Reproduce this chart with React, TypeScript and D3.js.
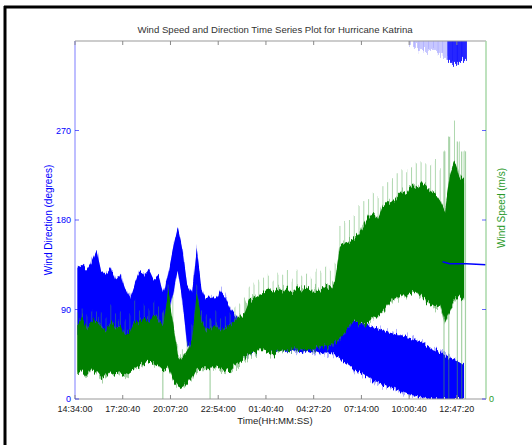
import React from "react";
import * as d3 from "d3";

// seconds after 14:34:00, one bin every 1000 s
const binStep = 1000;
const xTickValues = [0, 10000, 20000, 30000, 40000, 50000, 60000, 70000, 80000];
const xTickLabels = ["14:34:00", "17:20:40", "20:07:20", "22:54:00", "01:40:40", "04:27:20", "07:14:00", "10:00:40", "12:47:20"];
const dirTicks = [0, 90, 180, 270];

// wind direction band per bin (degrees)
const dirHi = [
  132, 135, 130, 138, 150, 128, 125, 132, 120, 124,
  110, 102, 116, 128, 125, 130, 120, 124, 107, 125,
  150, 172, 150, 115, 105, 152, 110, 100, 104, 100,
  108, 102, 91, 84, 77, 71, 74, 81, 89, 100,
  102, 100, 98, 101, 97, 99, 96, 100, 98, 95,
  97, 94, 96, 92, 90, 84, 81, 79, 79, 77,
  76, 74, 72, 71, 69, 67, 66, 64, 64, 62,
  61, 59, 57, 54, 51, 49, 47, 44, 41, 39,
  37, 34,
];
const dirLo = [
  64, 67, 64, 69, 69, 66, 67, 69, 64, 61,
  61, 64, 67, 69, 66, 66, 64, 63, 59, 84,
  104, 130, 100, 54, 49, 79, 59, 54, 54, 51,
  54, 54, 51, 49, 47, 44, 47, 49, 51, 54,
  54, 49, 48, 50, 47, 49, 48, 47, 49, 47,
  48, 46, 47, 45, 45, 41, 37, 34, 29, 27,
  24, 21, 17, 16, 14, 12, 11, 9, 7, 5,
  4, 3, 2, 1, 0, 0, 0, 0, 0, 0,
  0, 0,
];
// readings that wrapped round past 360 (bins 70..81)
const dirWrapLo = [356, 354, 351, 349, 351, 349, 346, 343, 339, 336, 339, 341];
const dirWrapFirstBin = 70;
const dirWrapDenseFrom = 78;
// steady direction at the end of the record
const dirTailTime = [77000, 78500, 82000, 86100];
const dirTailValue = [138, 136, 136, 135];

// wind speed band per bin (m/s) and the spikes above it
const spdHi = [
  14.8, 16.2, 14.2, 15.4, 15.8, 14.6, 13.8, 15.4, 14.2, 14.8,
  12.8, 13.4, 15.8, 15.4, 16.2, 15.4, 16.8, 15.8, 14.8, 21.8,
  15.8, 8.8, 7.8, 9.4, 11.8, 21.4, 15.8, 13.8, 14.2, 14.8,
  13.8, 14.2, 14.8, 15.8, 16.8, 17.4, 19.8, 20.2, 20.8, 21.4,
  21.8, 21.4, 22.2, 21.8, 22.4, 21.4, 22.6, 21.8, 22.2, 21.4,
  22.2, 21.8, 22.6, 22.2, 23.8, 30.8, 31.4, 31.8, 32.2, 33.4,
  34.8, 36.8, 37.4, 36.2, 38.8, 39.8, 39.4, 40.8, 41.8, 41.4,
  43.0, 42.4, 43.4, 43.0, 41.8, 41.4, 39.8, 37.8, 44.8, 47.8,
  44.8, 43.8,
];
const spdLo = [
  5.4, 5.8, 4.8, 6.2, 5.4, 4.2, 4.6, 5.8, 5.2, 5.4,
  4.8, 5.4, 6.2, 6.8, 7.4, 7.8, 7.4, 6.8, 5.8, 6.8,
  3.8, 2.8, 2.2, 3.2, 4.2, 5.8, 6.2, 6.2, 6.8, 6.2,
  5.8, 5.4, 5.8, 6.8, 7.4, 8.2, 8.8, 9.4, 9.8, 9.8,
  9.4, 8.8, 9.4, 9.8, 9.4, 9.8, 10.2, 9.8, 10.2, 9.8,
  10.2, 10.6, 10.8, 10.6, 11.4, 12.2, 13.4, 14.8, 15.8, 15.4,
  14.8, 15.4, 16.2, 16.8, 17.8, 18.8, 19.8, 20.2, 20.8, 20.8,
  21.4, 21.8, 20.8, 19.8, 18.8, 18.2, 18.8, 15.8, 17.8, 19.8,
  20.8, 19.8,
];
const spdPeak = [
  17.4, 18.8, 16.8, 17.8, 17.8, 17.4, 16.2, 18.8, 16.8, 17.4,
  15.8, 16.8, 19.8, 17.8, 18.8, 17.8, 19.8, 18.2, 17.4, 22.8,
  20.8, 10.8, 9.8, 11.8, 14.8, 22.8, 17.8, 16.8, 16.2, 17.4,
  16.2, 16.8, 17.4, 18.8, 19.4, 20.2, 22.8, 23.2, 23.8, 24.2,
  24.8, 23.8, 25.4, 24.8, 25.8, 24.2, 26.2, 24.8, 25.4, 24.6,
  25.8, 25.4, 26.6, 25.8, 27.4, 34.8, 35.4, 36.2, 36.8, 38.8,
  39.8, 40.2, 41.4, 40.8, 42.8, 43.8, 44.2, 45.4, 46.2, 45.8,
  46.8, 47.4, 47.8, 47.4, 46.8, 48.2, 46.2, 49.8, 52.8, 56.2,
  51.8, 49.8,
];
// moments where the speed record drops to zero
const spdDropTime = [18400, 28300, 77300, 78300, 80100, 81000, 81800];

const W = 532;
const H = 445;
const left = 75, right = 486, top = 41, bottom = 399;
const font = "'Liberation Sans', Arial, sans-serif";
const BLUE = "#0000ff";
const GREEN = "#007f00";

// scatter look: displace columns up/down, leave x alone
function Jag({ id, scale, seed }: { id: string; scale: number; seed: number }) {
  return (
    <filter id={id} x={0} y={0} width={W} height={H} filterUnits="userSpaceOnUse">
      <feTurbulence type="fractalNoise" baseFrequency="0.55 0.015" numOctaves={2} seed={seed} result="n" />
      <feColorMatrix in="n" type="matrix"
        values="1 0 0 0 0  0 0 0 0 0.5  0 0 1 0 0  0 0 0 0 1" result="m" />
      <feDisplacementMap in="SourceGraphic" in2="m" scale={scale} xChannelSelector="G" yChannelSelector="R" />
    </filter>
  );
}

export default function App() {
  const x = d3.scaleLinear().domain([0, 86100]).range([left, right]);
  const yDir = d3.scaleLinear().domain([0, 360]).range([bottom, top]);
  const ySpd = d3.scaleLinear().domain([0, 72]).range([bottom, top]);

  const bins = d3.range(dirHi.length).map((i) => ({
    t: i * binStep + binStep / 2,
    dHi: dirHi[i], dLo: dirLo[i],
    sHi: spdHi[i], sLo: spdLo[i], sPk: spdPeak[i],
  }));

  const dirArea = d3.area<any>().x((d) => x(d.t)).y0((d) => yDir(d.dLo)).y1((d) => yDir(d.dHi))(bins) || "";
  const spdArea = d3.area<any>().x((d) => x(d.t)).y0((d) => ySpd(d.sLo)).y1((d) => ySpd(d.sHi))(bins) || "";
  const tail = d3.line<number>().x((d, i) => x(dirTailTime[i])).y((d) => yDir(d))(dirTailValue) || "";
  const bw = x(binStep) - x(0);

  return (
    <svg width={W} height={H} style={{ position: "absolute", left: 0, top: 0, background: "#fff" }}>
      <defs>
        <Jag id="jagS" scale={9} seed={3} />
        <Jag id="jagL" scale={22} seed={7} />
        <Jag id="jagG" scale={12} seed={11} />
        <Jag id="jagW" scale={16} seed={5} />
        <clipPath id="plot">
          <rect x={left} y={top} width={right - left} height={bottom - top} />
        </clipPath>
      </defs>
      <rect x={0} y={0} width={W} height={H} fill="#fff" />
      {/* frame */}
      <line x1={5} x2={5} y1={6} y2={H} stroke="#000" strokeWidth={3} />
      <line x1={4} x2={W} y1={7} y2={7} stroke="#000" strokeWidth={3} />

      <text x={275} y={33} textAnchor="middle" fontFamily={font} fontSize={9.6} fill="#333">
        Wind Speed and Direction Time Series Plot for Hurricane Katrina
      </text>

      <g clipPath="url(#plot)">
        {/* direction */}
        <path d={dirArea} fill={BLUE} opacity={0.3} filter="url(#jagL)" />
        <path d={dirArea} fill={BLUE} filter="url(#jagS)" />
        <g filter="url(#jagW)">
          {dirWrapLo.map((v, k) => {
            const i = dirWrapFirstBin + k;
            return (
              <rect key={"w" + k} x={x(i * binStep)} width={bw + 0.5} y={yDir(360) - 10} height={yDir(v) - yDir(360) + 10}
                fill={BLUE} opacity={i >= dirWrapDenseFrom ? 0.85 : 0.22} />
            );
          })}
        </g>

        {/* speed */}
        <g filter="url(#jagS)">
          {bins.map((d, i) => (
            <line key={"p" + i} x1={x(d.t)} x2={x(d.t)} y1={ySpd(d.sLo)} y2={ySpd(d.sPk)}
              stroke="#4ca64c" strokeOpacity={0.45} strokeWidth={1} />
          ))}
        </g>
        {spdDropTime.map((t, k) => {
          const i = Math.min(spdPeak.length - 1, Math.floor(t / binStep));
          return <line key={"d" + k} x1={x(t)} x2={x(t)} y1={ySpd(0)} y2={ySpd(spdPeak[i])}
            stroke="#4ca64c" strokeOpacity={0.5} strokeWidth={1.2} />;
        })}
        <path d={spdArea} fill="#3c9c3c" opacity={0.45} filter="url(#jagL)" />
        <path d={spdArea} fill={GREEN} filter="url(#jagG)" />
        <path d={tail} fill="none" stroke={BLUE} strokeWidth={1.5} />
      </g>

      {/* axes */}
      <line x1={left} x2={right} y1={top} y2={top} stroke="#999" />
      <line x1={left} x2={right} y1={bottom} y2={bottom} stroke="#999" />
      <line x1={left} x2={left} y1={top} y2={bottom} stroke="#a8a8ff" strokeWidth={1.5} />
      <line x1={right} x2={right} y1={top} y2={bottom} stroke="#a8d8a8" strokeWidth={1.5} />
      {xTickValues.map((t, i) => (
        <g key={"x" + i}>
          <line x1={x(t)} x2={x(t)} y1={bottom} y2={bottom - 4} stroke="#888" />
          <line x1={x(t)} x2={x(t)} y1={top} y2={top + 4} stroke="#888" />
          <text x={x(t)} y={412} textAnchor="middle" fontFamily={font} fontSize={9} fill="#222">{xTickLabels[i]}</text>
        </g>
      ))}
      {dirTicks.map((v) => (
        <g key={"y" + v}>
          <line x1={left} x2={left + 4} y1={yDir(v)} y2={yDir(v)} stroke={BLUE} strokeOpacity={0.6} />
          <line x1={right - 4} x2={right} y1={yDir(v)} y2={yDir(v)} stroke={BLUE} strokeOpacity={0.6} />
          <text x={71} y={yDir(v) + 3} textAnchor="end" fontFamily={font} fontSize={9} fill={BLUE}>{v}</text>
        </g>
      ))}
      <text x={489} y={ySpd(0) + 3} fontFamily={font} fontSize={9} fill="#2a9a2a">0</text>

      <text x={275} y={424} textAnchor="middle" fontFamily={font} fontSize={9.6} fill="#222">Time(HH:MM:SS)</text>
      <text transform={`translate(52,220) rotate(-90)`} textAnchor="middle" fontFamily={font} fontSize={10} fill={BLUE}>
        Wind Direction (degrees)
      </text>
      <text transform={`translate(505,208) rotate(-90)`} textAnchor="middle" fontFamily={font} fontSize={10} fill="#2a9a2a">
        Wind Speed (m/s)
      </text>
    </svg>
  );
}
